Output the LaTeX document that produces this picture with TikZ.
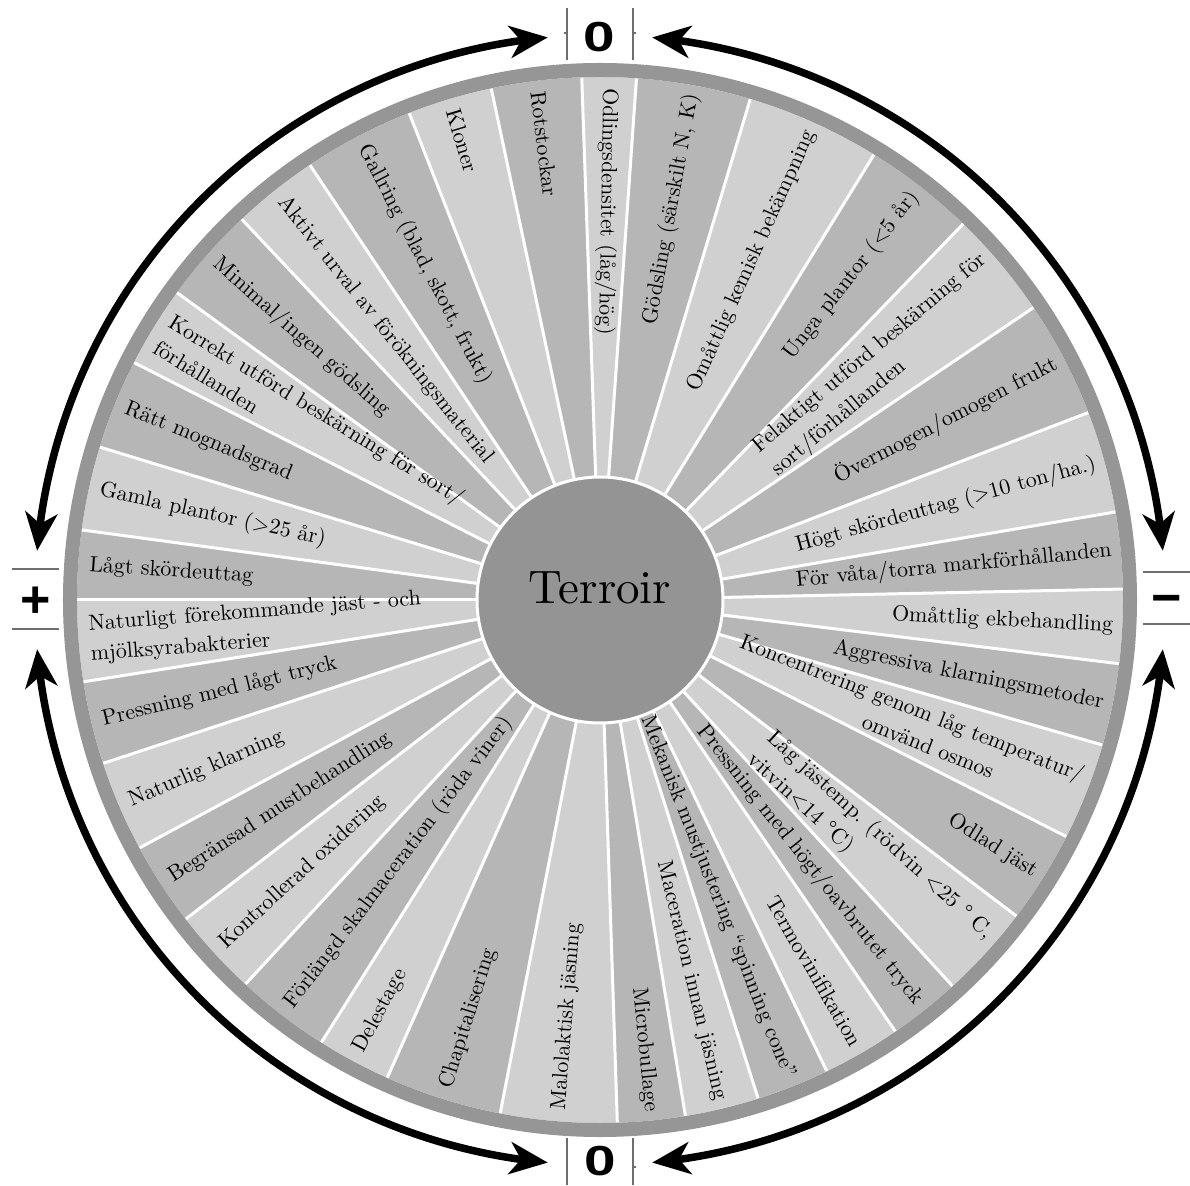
\documentclass[tikz,border=0pt]{standalone}
\usepackage{fontspec}
\setmainfont{lmroman10-regular.otf}[BoldFont=lmroman10-bold.otf, ItalicFont=lmroman10-italic.otf]
\newfontfamily\signfont{Liberation Sans}
\usetikzlibrary{arrows.meta, bending}

\definecolor{wedgelite}{RGB}{208,208,208}
\definecolor{wedgedark}{RGB}{182,182,182}
\definecolor{rimgray}{RGB}{150,150,150}
\definecolor{hubgray}{RGB}{148,148,148}
\definecolor{signgray}{RGB}{110,110,110}

\begin{document}
\begin{tikzpicture}[x=1pt, y=1pt,
		wedgetext/.style={inner sep=0pt, align=left, font=\fontsize{22}{30}\selectfont},
		hubtext/.style={inner sep=0pt, font=\fontsize{47}{50}\selectfont},
		spoke/.style={white, line width=3pt},
		twoway/.style={line width=7.5pt, >={Stealth[length=38pt, width=32pt, inset=11pt]}, <->},
		signline/.style={signgray, line width=1.5pt},
		signglyph/.style={inner sep=0pt, font=\signfont\bfseries\fontsize{52}{52}\selectfont},
		zeroglyph/.style={inner sep=0pt, xscale=1.35, transform shape, font=\signfont\bfseries\fontsize{42}{42}\selectfont}]
	\useasboundingbox (-600,-585) rectangle (590,600);
	
	% Wedges (alternating shades)
	\foreach \b [remember=\b as \a (initially -88.1), count=\i] in {-80.6, -72.4, -64.3, -55.6, -47.6, -37.2, -26.9, -16.1, -7, 1.2, 9.7, 21, 34, 46, 58.4, 73.3, 86, 92, 102, 111.4, 123.7, 133.25, 144, 153, 163, 172.3, 180, 189, 198.2, 208.3, 217.6, 227.3, 237.8, 246, 259, 271.9} {
		\ifodd\i \def\wcol{wedgedark}\else \def\wcol{wedgelite}\fi
		\fill[\wcol] (0,0) -- (\a:523) arc[start angle=\a, end angle=\b, radius=523] -- cycle;
	}
	
	% Spokes
	\foreach \b in {-88.1, -80.6, -72.4, -64.3, -55.6, -47.6, -37.2, -26.9, -16.1, -7, 1.2, 9.7, 21, 34, 46, 58.4, 73.3, 86, 92, 102, 111.4, 123.7, 133.25, 144, 153, 163, 172.3, 180, 189, 198.2, 208.3, 217.6, 227.3, 237.8, 246, 259} {
		\draw[spoke] (\b:120) -- (\b:523);
	}
	
	% Rim
	\draw[rimgray, line width=14pt] (0,0) circle (530);
	
	% Right half: text runs outwards
	\foreach \a/\b/\txt in {
		-88.1/-80.6/{Microbullage},
		-80.6/-72.4/{Maceration innan jäsning},
		-72.4/-64.3/{Mekanisk mustjustering “spinning cone”},
		-64.3/-55.6/{Termovinifikation},
		-55.6/-47.6/{Pressning med högt/oavbrutet tryck},
		-47.6/-37.2/{Låg jästemp. (rödvin <25 ° C,\\vitvin<14 °C)},
		-37.2/-26.9/{Odlad jäst},
		-26.9/-16.1/{Koncentrering genom låg temperatur/\\\hspace*{6.5em}omvänd osmos},
		-16.1/-7/{Aggressiva klarningsmetoder},
		-7/1.2/{Omåttlig ekbehandling},
		1.2/9.7/{För våta/torra markförhållanden},
		9.7/21/{Högt skördeuttag (>10 ton/ha.)},
		21/34/{Övermogen/omogen frukt},
		34/46/{Felaktigt utförd beskärning för\\sort/förhållanden},
		46/58.4/{Unga plantor (<5 år)},
		58.4/73.3/{Omåttlig kemisk bekämpning},
		73.3/86/{Gödsling (särskilt N, K)}} {
		\pgfmathsetmacro{\m}{(\a+\b)/2}
		\node[wedgetext, anchor=east, rotate=\m] at (\m:514) {\txt};
	}
	
	% Left half: text runs inwards
	\foreach \a/\b/\txt in {
		86/92/{Odlingsdensitet (låg/hög)},
		92/102/{Rotstockar},
		102/111.4/{Kloner},
		111.4/123.7/{Gallring (blad, skott, frukt)},
		123.7/133.25/{Aktivt urval av förökningsmaterial},
		133.25/144/{Minimal/ingen gödsling},
		144/153/{Korrekt utförd beskärning för sort/\\förhållanden},
		153/163/{Rätt mognadsgrad},
		163/172.3/{Gamla plantor (>25 år)},
		172.3/180/{Lågt skördeuttag},
		180/189/{Naturligt förekommande jäst - och\\mjölksyrabakterier},
		189/198.2/{Pressning med lågt tryck},
		198.2/208.3/{Naturlig klarning},
		208.3/217.6/{Begränsad mustbehandling},
		217.6/227.3/{Kontrollerad oxidering},
		227.3/237.8/{Förlängd skalmaceration (röda viner)},
		237.8/246/{Delestage},
		246/259/{Chapitalisering},
		259/271.9/{Malolaktisk jäsning}} {
		\pgfmathsetmacro{\m}{(\a+\b)/2}
		\node[wedgetext, anchor=west, rotate=\m-180] at (\m:512) {\txt};
	}
	
	% Hub
	\filldraw[fill=hubgray, draw=white, line width=3pt] (0,0) circle (123);
	\node[hubtext] (terroir) at (0,12) {Terroir};
	
	% Scale marks
	\node[zeroglyph] (top0) at (-1,563) {0};
	\node[zeroglyph] (bot0) at (0,-561) {0};
	\node[signglyph, anchor=base] (plus) at (-564,-18) {+};
	\node[signglyph, anchor=base] (minus) at (567,-16) {−};
	\draw[signline] (-33,540) -- (-33,592) (33,540) -- (33,592);
	\draw[signline] (-36,567) -- (-33,567) (33,567) -- (36,567);
	\draw[signline] (-33,-538) -- (-33,-585) (33,-538) -- (33,-585);
	\draw[signline] (33,-567) -- (36,-567);
	\draw[signline] (-588,31) -- (-541,31) (-588,-29) -- (-541,-29);
	\draw[signline] (543,28) -- (590,28) (543,-24) -- (590,-24);
	
	% Arrows round the wheel
	\coordinate (tl) at (95.3:565);
	\coordinate (tr) at (84.7:565);
	\coordinate (bl) at (185:565);
	\coordinate (br) at (355:565);
	\draw[twoway] (tl) arc[start angle=95.3, end angle=175, radius=565];
	\draw[twoway] (tr) arc[start angle=84.7, end angle=5, radius=565];
	\draw[twoway] (bl) arc[start angle=185, end angle=264.7, radius=565];
	\draw[twoway] (br) arc[start angle=355, end angle=275.3, radius=565];
\end{tikzpicture}
\end{document}
